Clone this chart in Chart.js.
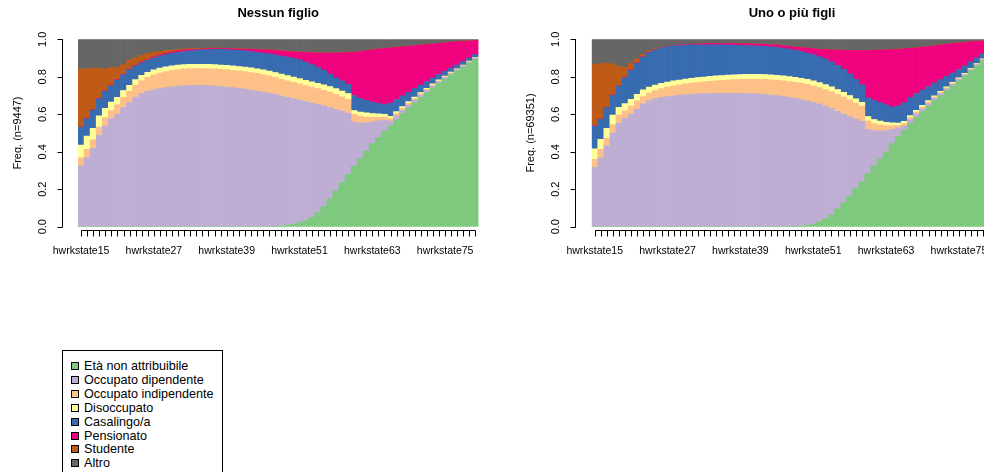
<!DOCTYPE html>
<html>
<head>
  <title>Distribuzione degli stati lavorativi per età</title>
  <script src="https://cdn.jsdelivr.net/npm/chart.js"></script>
  <style>
    html, body { margin: 0; padding: 0; overflow: hidden; background: #fff; }
    body { width: 984px; height: 472px; position: relative; font-family: 'Liberation Sans', Arial, sans-serif; }
    canvas { position: absolute; top: 0; }
    #legend { position: absolute; left: 62px; top: 350px; width: 159px; height: 140px; border: 1px solid #000; }
    .row { position: absolute; left: 0; height: 14px; font-size: 12.6px; line-height: 14px; color: #000; white-space: nowrap; }
    .row span { position: absolute; left: 8px; top: 3px; width: 6px; height: 6px; border: 1px solid #000; }
    .row b { position: absolute; left: 21px; top: 0; font-weight: normal; }
  </style>
</head>
<body>
  <canvas id="nessun" width="492" height="270" style="left:0"></canvas>
  <canvas id="figli" width="510" height="270" style="left:492px"></canvas>
  <div id="legend"></div>
  <script>
    const positions = [
      'hwrkstate15', 'hwrkstate16', 'hwrkstate17', 'hwrkstate18', 'hwrkstate19', 'hwrkstate20',
      'hwrkstate21', 'hwrkstate22', 'hwrkstate23', 'hwrkstate24', 'hwrkstate25', 'hwrkstate26',
      'hwrkstate27', 'hwrkstate28', 'hwrkstate29', 'hwrkstate30', 'hwrkstate31', 'hwrkstate32',
      'hwrkstate33', 'hwrkstate34', 'hwrkstate35', 'hwrkstate36', 'hwrkstate37', 'hwrkstate38',
      'hwrkstate39', 'hwrkstate40', 'hwrkstate41', 'hwrkstate42', 'hwrkstate43', 'hwrkstate44',
      'hwrkstate45', 'hwrkstate46', 'hwrkstate47', 'hwrkstate48', 'hwrkstate49', 'hwrkstate50',
      'hwrkstate51', 'hwrkstate52', 'hwrkstate53', 'hwrkstate54', 'hwrkstate55', 'hwrkstate56',
      'hwrkstate57', 'hwrkstate58', 'hwrkstate59', 'hwrkstate60', 'hwrkstate61', 'hwrkstate62',
      'hwrkstate63', 'hwrkstate64', 'hwrkstate65', 'hwrkstate66', 'hwrkstate67', 'hwrkstate68',
      'hwrkstate69', 'hwrkstate70', 'hwrkstate71', 'hwrkstate72', 'hwrkstate73', 'hwrkstate74',
      'hwrkstate75', 'hwrkstate76', 'hwrkstate77', 'hwrkstate78', 'hwrkstate79', 'hwrkstate80'
    ];
    const yTicks = [0, 0.2, 0.4, 0.6, 0.8, 1.0];

    const stateNames = ['Età non attribuibile', 'Occupato dipendente', 'Occupato indipendente',
      'Disoccupato', 'Casalingo/a', 'Pensionato', 'Studente', 'Altro'];
    const stateColors = ['#7FC97F', '#BEAED4', '#FDC086', '#FFFF99', '#386CB0', '#F0027F', '#BF5B17', '#666666'];

    // cumulative upper edge of each state (bottom to top); Altro fills up to 1
    // -- Nessun figlio (n=9447)
    const nfEta = [0, 0, 0, 0, 0, 0, 0, 0, 0, 0, 0, 0, 0, 0, 0, 0, 0, 0, 0, 0, 0, 0, 0, 0, 0, 0, 0, 0, 0, 0, 0, 0,
      .002, .004, .007, .012, .02, .032, .05, .075, .107, .149, .19, .235, .28, .324, .363, .404, .443, .475, .51,
      .54, .572, .603, .633, .662, .69, .716, .741, .765, .788, .81, .831, .852, .873, .895];
    const nfDip = [.325, .368, .418, .487, .537, .575, .60, .635, .662, .69, .71, .722, .73, .737, .742, .746, .75,
      .753, .754, .754, .754, .753, .751, .748, .745, .742, .738, .734, .729, .724, .719, .713, .706, .697, .69,
      .683, .676, .668, .66, .653, .645, .635, .625, .615, .605, .558, .553, .556, .56, .565, .568, .565, .592,
      .621, .649, .676, .702, .727, .751, .774, .796, .817, .837, .857, .878, .899];
    const nfInd = [.368, .413, .463, .532, .582, .62, .65, .69, .722, .755, .78, .797, .81, .82, .828, .834, .839,
      .843, .844, .844, .844, .843, .842, .84, .838, .835, .832, .828, .823, .818, .812, .805, .797, .787, .778,
      .77, .762, .753, .745, .737, .728, .718, .706, .693, .68, .60, .59, .585, .584, .584, .585, .577, .603,
      .631, .658, .684, .709, .733, .756, .779, .80, .821, .84, .86, .881, .901];
    const nfDis = [.436, .483, .525, .592, .632, .665, .69, .727, .755, .785, .808, .824, .837, .846, .853, .858,
      .862, .865, .866, .866, .866, .866, .865, .863, .861, .858, .855, .852, .848, .843, .837, .83, .823, .815,
      .806, .798, .79, .781, .773, .765, .757, .748, .737, .724, .711, .62, .612, .607, .604, .602, .60, .589,
      .614, .641, .667, .692, .716, .739, .762, .784, .804, .825, .843, .863, .884, .903];
    const nfCas = [.53, .576, .622, .682, .722, .75, .782, .81, .838, .858, .874, .888, .90, .91, .918, .925, .93,
      .935, .939, .942, .944, .945, .946, .946, .945, .943, .941, .938, .935, .931, .927, .922, .917, .911, .905,
      .898, .89, .878, .865, .85, .835, .815, .795, .778, .76, .70, .685, .675, .665, .658, .652, .659, .679,
      .699, .717, .737, .756, .775, .794, .812, .829, .847, .863, .881, .90, .918];
    const nfPen = [.532, .578, .624, .685, .725, .753, .785, .813, .841, .861, .878, .892, .905, .916, .925, .932,
      .938, .942, .945, .947, .948, .95, .95, .95, .95, .949, .948, .947, .946, .945, .944, .942, .94, .938, .935,
      .933, .931, .929, .928, .927, .926, .927, .927, .928, .929, .931, .935, .94, .944, .948, .951, .954, .957,
      .96, .963, .966, .969, .972, .975, .978, .981, .984, .987, .989, .991, .993];
    const nfStu = [.842, .843, .845, .845, .843, .849, .849, .865, .889, .901, .914, .925, .932, .936, .94, .943,
      .946, .948, .95, .951, .952, .953, .953, .953, .952, .951, .95, .949, .948, .947, .946, .944, .942, .94, .937,
      .935, .933, .931, .93, .929, .928, .928, .928, .929, .93, .932, .936, .941, .945, .949, .952, .955, .958,
      .961, .964, .967, .97, .973, .976, .979, .982, .985, .988, .99, .992, .994];

    // -- Uno o più figli (n=69351)
    const ufEta = [0, 0, 0, 0, 0, 0, 0, 0, 0, 0, 0, 0, 0, 0, 0, 0, 0, 0, 0, 0, 0, 0, 0, 0, 0, 0, 0, 0, 0, 0, 0, 0, 0,
      .002, .005, .009, .014, .025, .04, .062, .097, .128, .164, .205, .24, .285, .326, .361, .40, .443, .482,
      .516, .552, .584, .614, .644, .673, .70, .726, .751, .778, .804, .833, .86, .886, .905];
    const ufDip = [.317, .367, .432, .50, .552, .578, .60, .628, .655, .672, .683, .69, .695, .699, .702, .705, .707,
      .709, .71, .711, .712, .712, .712, .712, .712, .711, .71, .708, .706, .703, .70, .696, .691, .685, .678,
      .671, .663, .654, .643, .63, .615, .60, .587, .574, .562, .52, .513, .51, .513, .52, .527, .538, .571,
      .601, .629, .657, .685, .711, .736, .76, .786, .811, .839, .865, .89, .909];
    const ufInd = [.36, .413, .472, .545, .595, .618, .643, .672, .695, .713, .727, .737, .745, .751, .757, .762,
      .766, .77, .773, .776, .779, .781, .783, .785, .786, .787, .787, .787, .786, .784, .782, .779, .775, .771,
      .766, .76, .752, .743, .732, .72, .706, .692, .677, .66, .643, .565, .55, .543, .54, .54, .54, .55, .582,
      .611, .638, .665, .692, .717, .741, .765, .79, .815, .842, .868, .893, .911];
    const ufDis = [.415, .466, .525, .596, .637, .657, .68, .706, .73, .745, .756, .765, .772, .778, .783, .788,
      .792, .796, .799, .802, .805, .807, .809, .811, .812, .813, .813, .813, .812, .81, .808, .805, .801, .797,
      .792, .786, .778, .769, .758, .746, .732, .717, .70, .683, .664, .588, .572, .563, .557, .554, .553, .562,
      .593, .621, .647, .673, .699, .723, .746, .77, .794, .819, .845, .871, .896, .913];
    const ufCas = [.537, .573, .635, .701, .75, .795, .835, .872, .905, .928, .944, .954, .961, .965, .967, .969,
      .97, .971, .971, .971, .971, .971, .97, .969, .968, .967, .966, .964, .962, .96, .957, .953, .948, .942,
      .935, .927, .918, .907, .894, .878, .86, .84, .815, .787, .757, .688, .675, .662, .65, .638, .645, .662,
      .691, .711, .729, .748, .767, .785, .802, .82, .839, .859, .88, .901, .923, .938];
    const ufPen = [.54, .575, .637, .703, .752, .797, .837, .874, .907, .93, .945, .955, .962, .966, .97, .972,
      .974, .975, .976, .977, .977, .977, .977, .977, .976, .976, .975, .974, .973, .971, .969, .966, .962, .959,
      .956, .953, .95, .947, .945, .943, .942, .941, .94, .94, .94, .94, .941, .942, .943, .945, .947, .949, .952,
      .955, .958, .961, .965, .969, .973, .977, .98, .983, .986, .989, .991, .993];
    const ufStu = [.865, .87, .873, .868, .855, .85, .872, .895, .92, .938, .95, .958, .964, .968, .971, .973, .975,
      .976, .977, .978, .978, .978, .978, .978, .977, .977, .976, .975, .974, .972, .97, .967, .963, .96, .957,
      .954, .951, .948, .946, .944, .943, .942, .941, .941, .941, .941, .942, .943, .944, .946, .948, .95, .953,
      .956, .959, .962, .966, .97, .974, .978, .981, .984, .987, .99, .992, .994];

    function makeDatasets(tops) {
      return stateNames.map((name, k) => ({
        label: name,
        data: positions.map((_, i) => (k < tops.length ? tops[k][i] : 1) - (k > 0 ? tops[k - 1][i] : 0)),
        backgroundColor: stateColors[k],
        borderWidth: 0,
        categoryPercentage: 1,
        barPercentage: 1
      }));
    }

    // R style axes: y axis set apart from the bars, x axis line only between first and last tick
    const rAxes = {
      id: 'rAxes',
      afterDraw(chart, args, opts) {
        const { ctx, chartArea: a, scales: { x, y } } = chart;
        const px = v => Math.round(v) + 0.5;
        ctx.save();
        ctx.strokeStyle = '#000';
        ctx.fillStyle = '#000';
        ctx.lineWidth = 1;

        const yLine = px(y.getPixelForValue(0) + 3.5);
        const x0 = px(x.getPixelForValue(0)), x1 = px(x.getPixelForValue(positions.length - 1));
        ctx.beginPath();
        ctx.moveTo(x0, yLine); ctx.lineTo(x1, yLine);
        positions.forEach((p, i) => {
          const xp = px(x.getPixelForValue(i));
          ctx.moveTo(xp, yLine); ctx.lineTo(xp, yLine + 6);
        });
        ctx.stroke();
        ctx.font = '10.5px "Liberation Sans", Arial, sans-serif';
        ctx.textAlign = 'center';
        ctx.textBaseline = 'middle';
        positions.forEach((p, i) => {
          if (i % 12 === 0) ctx.fillText(p, x.getPixelForValue(i), 251.5);
        });

        const xLine = px(a.left - 16.5);
        ctx.beginPath();
        ctx.moveTo(xLine, px(y.getPixelForValue(1)) - 0.5); ctx.lineTo(xLine, px(y.getPixelForValue(0)));
        yTicks.forEach(t => {
          const yp = px(y.getPixelForValue(t));
          ctx.moveTo(xLine, yp); ctx.lineTo(xLine - 5, yp);
        });
        ctx.stroke();
        ctx.font = '11px "Liberation Sans", Arial, sans-serif';
        yTicks.forEach(t => {
          ctx.save();
          ctx.translate(xLine - 20, y.getPixelForValue(t));
          ctx.rotate(-Math.PI / 2);
          ctx.fillText(t.toFixed(1), 0, 0);
          ctx.restore();
        });
        ctx.save();
        ctx.translate(xLine - 45, (a.top + a.bottom) / 2);
        ctx.rotate(-Math.PI / 2);
        ctx.fillText(opts.ylab, 0, 0);
        ctx.restore();
        ctx.restore();
      }
    };

    function drawPanel(id, title, ylab, tops, padRight, padLeft) {
      new Chart(document.getElementById(id), {
        type: 'bar',
        data: { labels: positions, datasets: makeDatasets(tops) },
        options: {
          responsive: false,
          animation: false,
          layout: { padding: { left: padLeft, right: padRight, top: 0, bottom: 43.3 } },
          scales: {
            x: { stacked: true, display: false },
            y: { stacked: true, display: false, min: 0, max: 1 }
          },
          plugins: {
            legend: { display: false },
            tooltip: { enabled: false },
            title: {
              display: true,
              text: title,
              color: '#000',
              font: { family: '"Liberation Sans", Arial, sans-serif', size: 13, weight: 'bold' },
              padding: { top: 6, bottom: 17.7 }
            },
            rAxes: { ylab: ylab }
          }
        },
        plugins: [rAxes]
      });
    }

    drawPanel('nessun', 'Nessun figlio', 'Freq. (n=9447)',
      [nfEta, nfDip, nfInd, nfDis, nfCas, nfPen, nfStu], 13.5, 78);
    drawPanel('figli', 'Uno o più figli', 'Freq. (n=69351)',
      [ufEta, ufDip, ufInd, ufDis, ufCas, ufPen, ufStu], 9.7, 99.7);

    const legend = document.getElementById('legend');
    stateNames.forEach((name, k) => {
      const row = document.createElement('div');
      row.className = 'row';
      row.style.top = (8 + k * 13.9) + 'px';
      row.innerHTML = '<span></span><b></b>';
      row.querySelector('span').style.background = stateColors[k];
      row.querySelector('b').textContent = name;
      legend.appendChild(row);
    });
  </script>
</body>
</html>
